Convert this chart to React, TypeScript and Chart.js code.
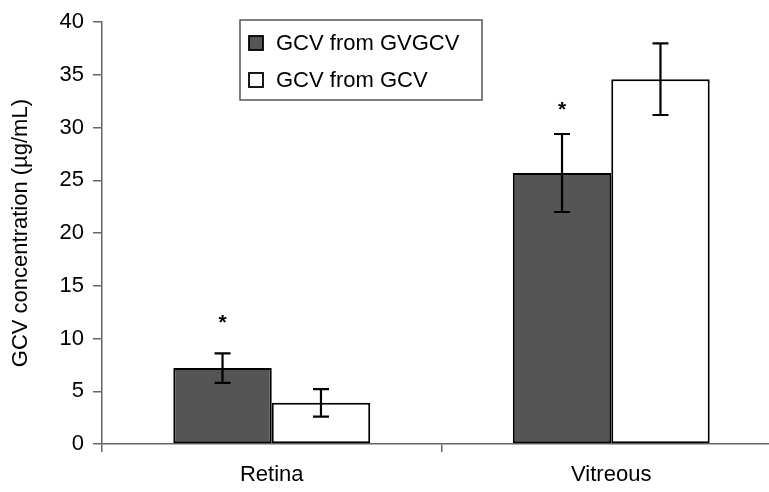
import React, { useEffect, useRef } from "react";
import { Chart, registerables } from "chart.js";

Chart.register(...registerables);

const categories = ["Retina", "Vitreous"];
const seriesNames = ["GCV from GVGCV", "GCV from GCV"];
const gvgcvValues = [7.2, 25.7];
const gvgcvErrors = [1.4, 3.7];
const gcvValues = [3.9, 34.6];
const gcvErrors = [1.3, 3.4];
const starValues = [12.0, 32.2]; // significance marks above GVGCV bars
const yTicks = [0, 5, 10, 15, 20, 25, 30, 35, 40];

const FONT = "'Liberation Sans', Arial, sans-serif";
const errors = [gvgcvErrors, gcvErrors];

const errorBarPlugin = {
  id: "errorBars",
  afterDatasetsDraw(chart: any) {
    const ctx = chart.ctx;
    const y = chart.scales.y;
    ctx.save();
    ctx.strokeStyle = "#000";
    ctx.lineWidth = 2.2;
    chart.data.datasets.forEach((ds: any, i: number) => {
      const meta = chart.getDatasetMeta(i);
      meta.data.forEach((bar: any, j: number) => {
        const v = ds.data[j];
        const e = errors[i][j];
        const yt = y.getPixelForValue(v + e);
        const yb = y.getPixelForValue(v - e);
        const x = bar.x;
        ctx.beginPath();
        ctx.moveTo(x, yt);
        ctx.lineTo(x, yb);
        ctx.moveTo(x - 8, yt);
        ctx.lineTo(x + 8, yt);
        ctx.moveTo(x - 8, yb);
        ctx.lineTo(x + 8, yb);
        ctx.stroke();
      });
    });
    const meta0 = chart.getDatasetMeta(0);
    ctx.fillStyle = "#000";
    ctx.font = `bold 21px ${FONT}`;
    ctx.textAlign = "center";
    ctx.textBaseline = "alphabetic";
    meta0.data.forEach((bar: any, j: number) => {
      const sy = y.getPixelForValue(starValues[j]);
      ctx.fillText("*", bar.x, sy + 12);
    });
    ctx.restore();
  },
};

const legendPlugin = {
  id: "boxLegend",
  afterDraw(chart: any) {
    const ctx = chart.ctx;
    ctx.save();
    const bx = 240, by = 20, bw = 242, bh = 80;
    ctx.strokeStyle = "#555";
    ctx.lineWidth = 1.5;
    ctx.strokeRect(bx, by, bw, bh);
    chart.data.datasets.forEach((ds: any, i: number) => {
      const cy = by + 23 + i * 37;
      ctx.fillStyle = ds.backgroundColor;
      ctx.fillRect(bx + 9, cy - 7, 14, 14);
      ctx.strokeStyle = "#000";
      ctx.lineWidth = 1.8;
      ctx.strokeRect(bx + 9, cy - 7, 14, 14);
      ctx.fillStyle = "#000";
      ctx.font = `22px ${FONT}`;
      ctx.textAlign = "left";
      ctx.textBaseline = "middle";
      ctx.fillText(ds.label, bx + 36, cy + 1);
    });
    ctx.restore();
  },
};

export default function App() {
  const ref = useRef<HTMLCanvasElement>(null);
  useEffect(() => {
    if (!ref.current) return;
    const chart = new Chart(ref.current, {
      type: "bar",
      data: {
        labels: categories,
        datasets: [
          {
            label: seriesNames[0],
            data: gvgcvValues,
            backgroundColor: "#555555",
            borderColor: "#000",
            borderWidth: 2,
            borderSkipped: false,
          },
          {
            label: seriesNames[1],
            data: gcvValues,
            backgroundColor: "#ffffff",
            borderColor: "#000",
            borderWidth: 2,
            borderSkipped: false,
          },
        ],
      },
      options: {
        animation: false,
        responsive: false,
        devicePixelRatio: 1,
        layout: { padding: { top: 20, right: 0, left: 0, bottom: 0 } },
        plugins: { legend: { display: false }, tooltip: { enabled: false } },
        datasets: { bar: { categoryPercentage: 0.58, barPercentage: 1 } },
        scales: {
          x: {
            grid: { display: true, drawOnChartArea: false, drawTicks: true, tickLength: 8, offset: true, color: "#666", lineWidth: 1.5 },
            border: { display: true, color: "#666", width: 1.5 },
            ticks: { color: "#000", font: { family: FONT, size: 22 }, padding: 10 },
            afterFit: (s: any) => { s.height = 48; },
          },
          y: {
            min: 0,
            max: 40,
            afterBuildTicks: (s: any) => { s.ticks = yTicks.map((v) => ({ value: v })); },
            grid: { display: true, drawOnChartArea: false, drawTicks: true, tickLength: 9, color: "#666", lineWidth: 1.5 },
            border: { display: true, color: "#666", width: 1.5 },
            ticks: { color: "#000", font: { family: FONT, size: 22 }, padding: 9 },
            title: { display: true, text: "GCV concentration (µg/mL)", color: "#000", font: { family: FONT, size: 22 }, padding: { top: 8, bottom: 0 } },
            afterFit: (s: any) => { s.width = 102; },
          },
        },
      },
      plugins: [errorBarPlugin, legendPlugin],
    });
    return () => chart.destroy();
  }, []);
  return (
    <div style={{ position: "absolute", left: 0, top: 0, width: 769, height: 492, overflow: "hidden", background: "#fff" }}>
      <canvas ref={ref} width={781} height={492} style={{ width: 781, height: 492, display: "block" }} />
    </div>
  );
}
